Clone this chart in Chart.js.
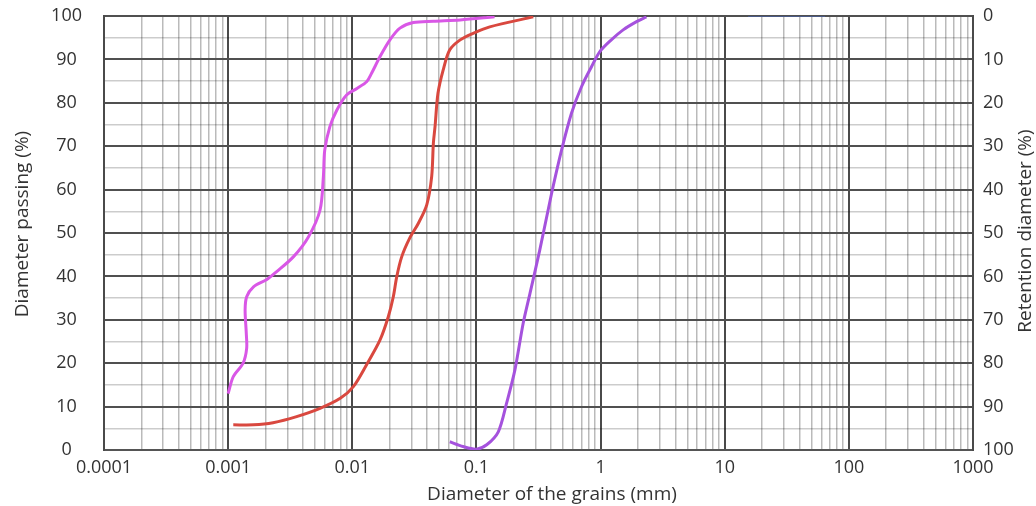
<!DOCTYPE html>
<html>
<head>
<meta charset="utf-8">
<script src="https://cdn.jsdelivr.net/npm/chart.js@4.4.1/dist/chart.umd.min.js"></script>
<style>
  html, body { margin: 0; padding: 0; background: #ffffff; }
  #wrap { width: 1036px; height: 506px; position: relative; }
</style>
</head>
<body>
<div id="wrap"><canvas id="c" width="1036" height="506"></canvas></div>
<script>
// ---- data ----
const decadeValues = [0.0001, 0.001, 0.01, 0.1, 1, 10, 100, 1000];
const decadeLabels = ['0.0001', '0.001', '0.01', '0.1', '1', '10', '100', '1000'];
const leftTickLabels = ['0', '10', '20', '30', '40', '50', '60', '70', '80', '90', '100'];
const rightTickLabels = ['0', '10', '20', '30', '40', '50', '60', '70', '80', '90', '100'];

const magentaX = [0.001, 0.0011, 0.00132, 0.00141, 0.0014, 0.00137, 0.00141, 0.0016, 0.00205, 0.00246, 0.00335, 0.00443, 0.0055, 0.00585, 0.006, 0.0066, 0.0075, 0.009, 0.0109, 0.0131, 0.0143, 0.0167, 0.0201, 0.0242, 0.031, 0.045, 0.074, 0.14];
const magentaY = [13, 16.9, 20, 23.4, 26.9, 32.3, 35.3, 37.6, 39.3, 41.1, 44.5, 49.1, 55.3, 63, 69.1, 74.5, 78.3, 81.8, 83.3, 84.9, 86.8, 90.6, 94.5, 97.2, 98.5, 98.8, 99.1, 99.8];

const redX = [0.0011, 0.0016, 0.0023, 0.00356, 0.0055, 0.008, 0.0102, 0.013, 0.0167, 0.0195, 0.0214, 0.0228, 0.025, 0.029, 0.034, 0.0398, 0.0436, 0.045, 0.0464, 0.049, 0.054, 0.061, 0.074, 0.094, 0.128, 0.287];
const redY = [5.8, 5.8, 6.3, 7.7, 9.6, 11.9, 14.6, 19.6, 25.3, 30.7, 35.3, 39.9, 44.5, 48.8, 52.2, 56.5, 63, 70.7, 74.5, 82.2, 87.6, 92.2, 94.5, 96, 97.5, 99.8];

const purpleX = [0.061, 0.078, 0.1, 0.121, 0.15, 0.175, 0.204, 0.238, 0.27, 0.324, 0.403, 0.485, 0.583, 0.702, 0.845, 0.987, 1.22, 1.52, 1.95, 2.34];
const purpleY = [1.9, 0.8, 0.2, 1.2, 4.2, 10.8, 18.4, 29.2, 36.1, 46.1, 59.1, 69.1, 77.6, 83.7, 88.3, 91.8, 94.5, 96.8, 98.7, 99.8];

const navyX = [15.4, 64.3];
const navyY = [100, 100];

const multipliers = [1, 2, 3, 4, 5, 6, 7, 8, 9];

const toPts = (xs, ys) => xs.map((x, i) => ({ x: x, y: ys[i] }));

const TEXT = '#333333';
const FONT = '"Open Sans", "DejaVu Sans", sans-serif';

const titlesPlugin = {
  id: 'axisTitles',
  afterDraw(chart) {
    const ctx = chart.ctx;
    ctx.save();
    ctx.fillStyle = TEXT;
    ctx.font = '19px ' + FONT;
    ctx.textAlign = 'center';
    ctx.textBaseline = 'middle';
    ctx.fillText('Diameter of the grains (mm)', 552, 495);
    ctx.save();
    ctx.translate(23, 224);
    ctx.rotate(-Math.PI / 2);
    ctx.fillText('Diameter passing (%)', 0, 0);
    ctx.restore();
    ctx.save();
    ctx.translate(1026, 231);
    ctx.rotate(-Math.PI / 2);
    ctx.fillText('Retention diameter (%)', 0, 0);
    ctx.restore();
    ctx.restore();
  }
};

const lineDs = (label, xs, ys, color, width) => ({
  label: label,
  data: toPts(xs, ys),
  borderColor: color,
  backgroundColor: color,
  borderWidth: width,
  pointRadius: 0,
  tension: 0.3,
  fill: false,
  xAxisID: 'x',
  yAxisID: 'y'
});

function fitVertical(w) {
  return function (scale) {
    scale.width = w;
    scale.paddingTop = 0;
    scale.paddingBottom = 0;
  };
}

new Chart(document.getElementById('c'), {
  type: 'line',
  data: {
    datasets: [
      lineDs('Sample A', magentaX, magentaY, '#d957e6', 3),
      lineDs('Sample B', redX, redY, '#d9483f', 3),
      lineDs('Sample C', purpleX, purpleY, '#a552dd', 3),
      lineDs('Top', navyX, navyY, '#4a5a86', 2)
    ]
  },
  options: {
    responsive: false,
    devicePixelRatio: 1,
    animation: false,
    layout: { padding: { top: 16, left: 0, right: 0, bottom: 0 } },
    plugins: {
      legend: { display: false },
      tooltip: { enabled: false }
    },
    scales: {
      x: {
        type: 'logarithmic',
        position: 'bottom',
        min: decadeValues[0],
        max: decadeValues[decadeValues.length - 1],
        afterBuildTicks(scale) {
          const t = [];
          decadeValues.forEach((d, i) => {
            if (i === decadeValues.length - 1) {
              t.push({ value: d, dec: i });
            } else {
              multipliers.forEach(m => t.push({ value: d * m, dec: m === 1 ? i : -1 }));
            }
          });
          scale.ticks = t;
        },
        afterFit(scale) {
          scale.height = 56;
          scale.paddingLeft = 0;
          scale.paddingRight = 0;
        },
        ticks: {
          autoSkip: false,
          maxRotation: 0,
          minRotation: 0,
          padding: 7,
          color: TEXT,
          font: { family: FONT, size: 18 },
          callback(value, index, ticks) {
            const d = ticks[index].dec;
            return d >= 0 ? decadeLabels[d] : '';
          }
        },
        grid: {
          drawTicks: false,
          color(ctx) { return ctx.tick && ctx.tick.dec >= 0 ? '#4a4a4a' : 'rgba(0,0,0,0.27)'; },
          lineWidth(ctx) { return ctx.tick && ctx.tick.dec >= 0 ? 2 : 1.5; }
        },
        border: { display: true, color: '#555555', width: 2 }
      },
      y: {
        type: 'linear',
        position: 'left',
        min: 0,
        max: 100,
        afterFit: fitVertical(104),
        ticks: {
          stepSize: 5,
          autoSkip: false,
          crossAlign: 'center',
          padding: 22,
          color: TEXT,
          font: { family: FONT, size: 18 },
          callback(value) {
            return value % 10 === 0 ? leftTickLabels[value / 10] : '';
          }
        },
        grid: {
          drawTicks: false,
          color(ctx) { return ctx.tick && ctx.tick.value % 10 === 0 ? '#505050' : 'rgba(0,0,0,0.2)'; },
          lineWidth(ctx) { return ctx.tick && ctx.tick.value % 10 === 0 ? 2 : 1.5; }
        },
        border: { display: true, color: '#4a4a4a', width: 2 }
      },
      y2: {
        type: 'linear',
        position: 'right',
        min: 0,
        max: 100,
        reverse: true,
        afterFit: fitVertical(63),
        ticks: {
          stepSize: 10,
          autoSkip: false,
          padding: 10,
          color: TEXT,
          font: { family: FONT, size: 18 },
          callback(value) { return rightTickLabels[value / 10]; }
        },
        grid: { display: false, drawTicks: false },
        border: { display: true, color: '#4a4a4a', width: 2 }
      }
    }
  },
  plugins: [titlesPlugin]
});
</script>
</body>
</html>
